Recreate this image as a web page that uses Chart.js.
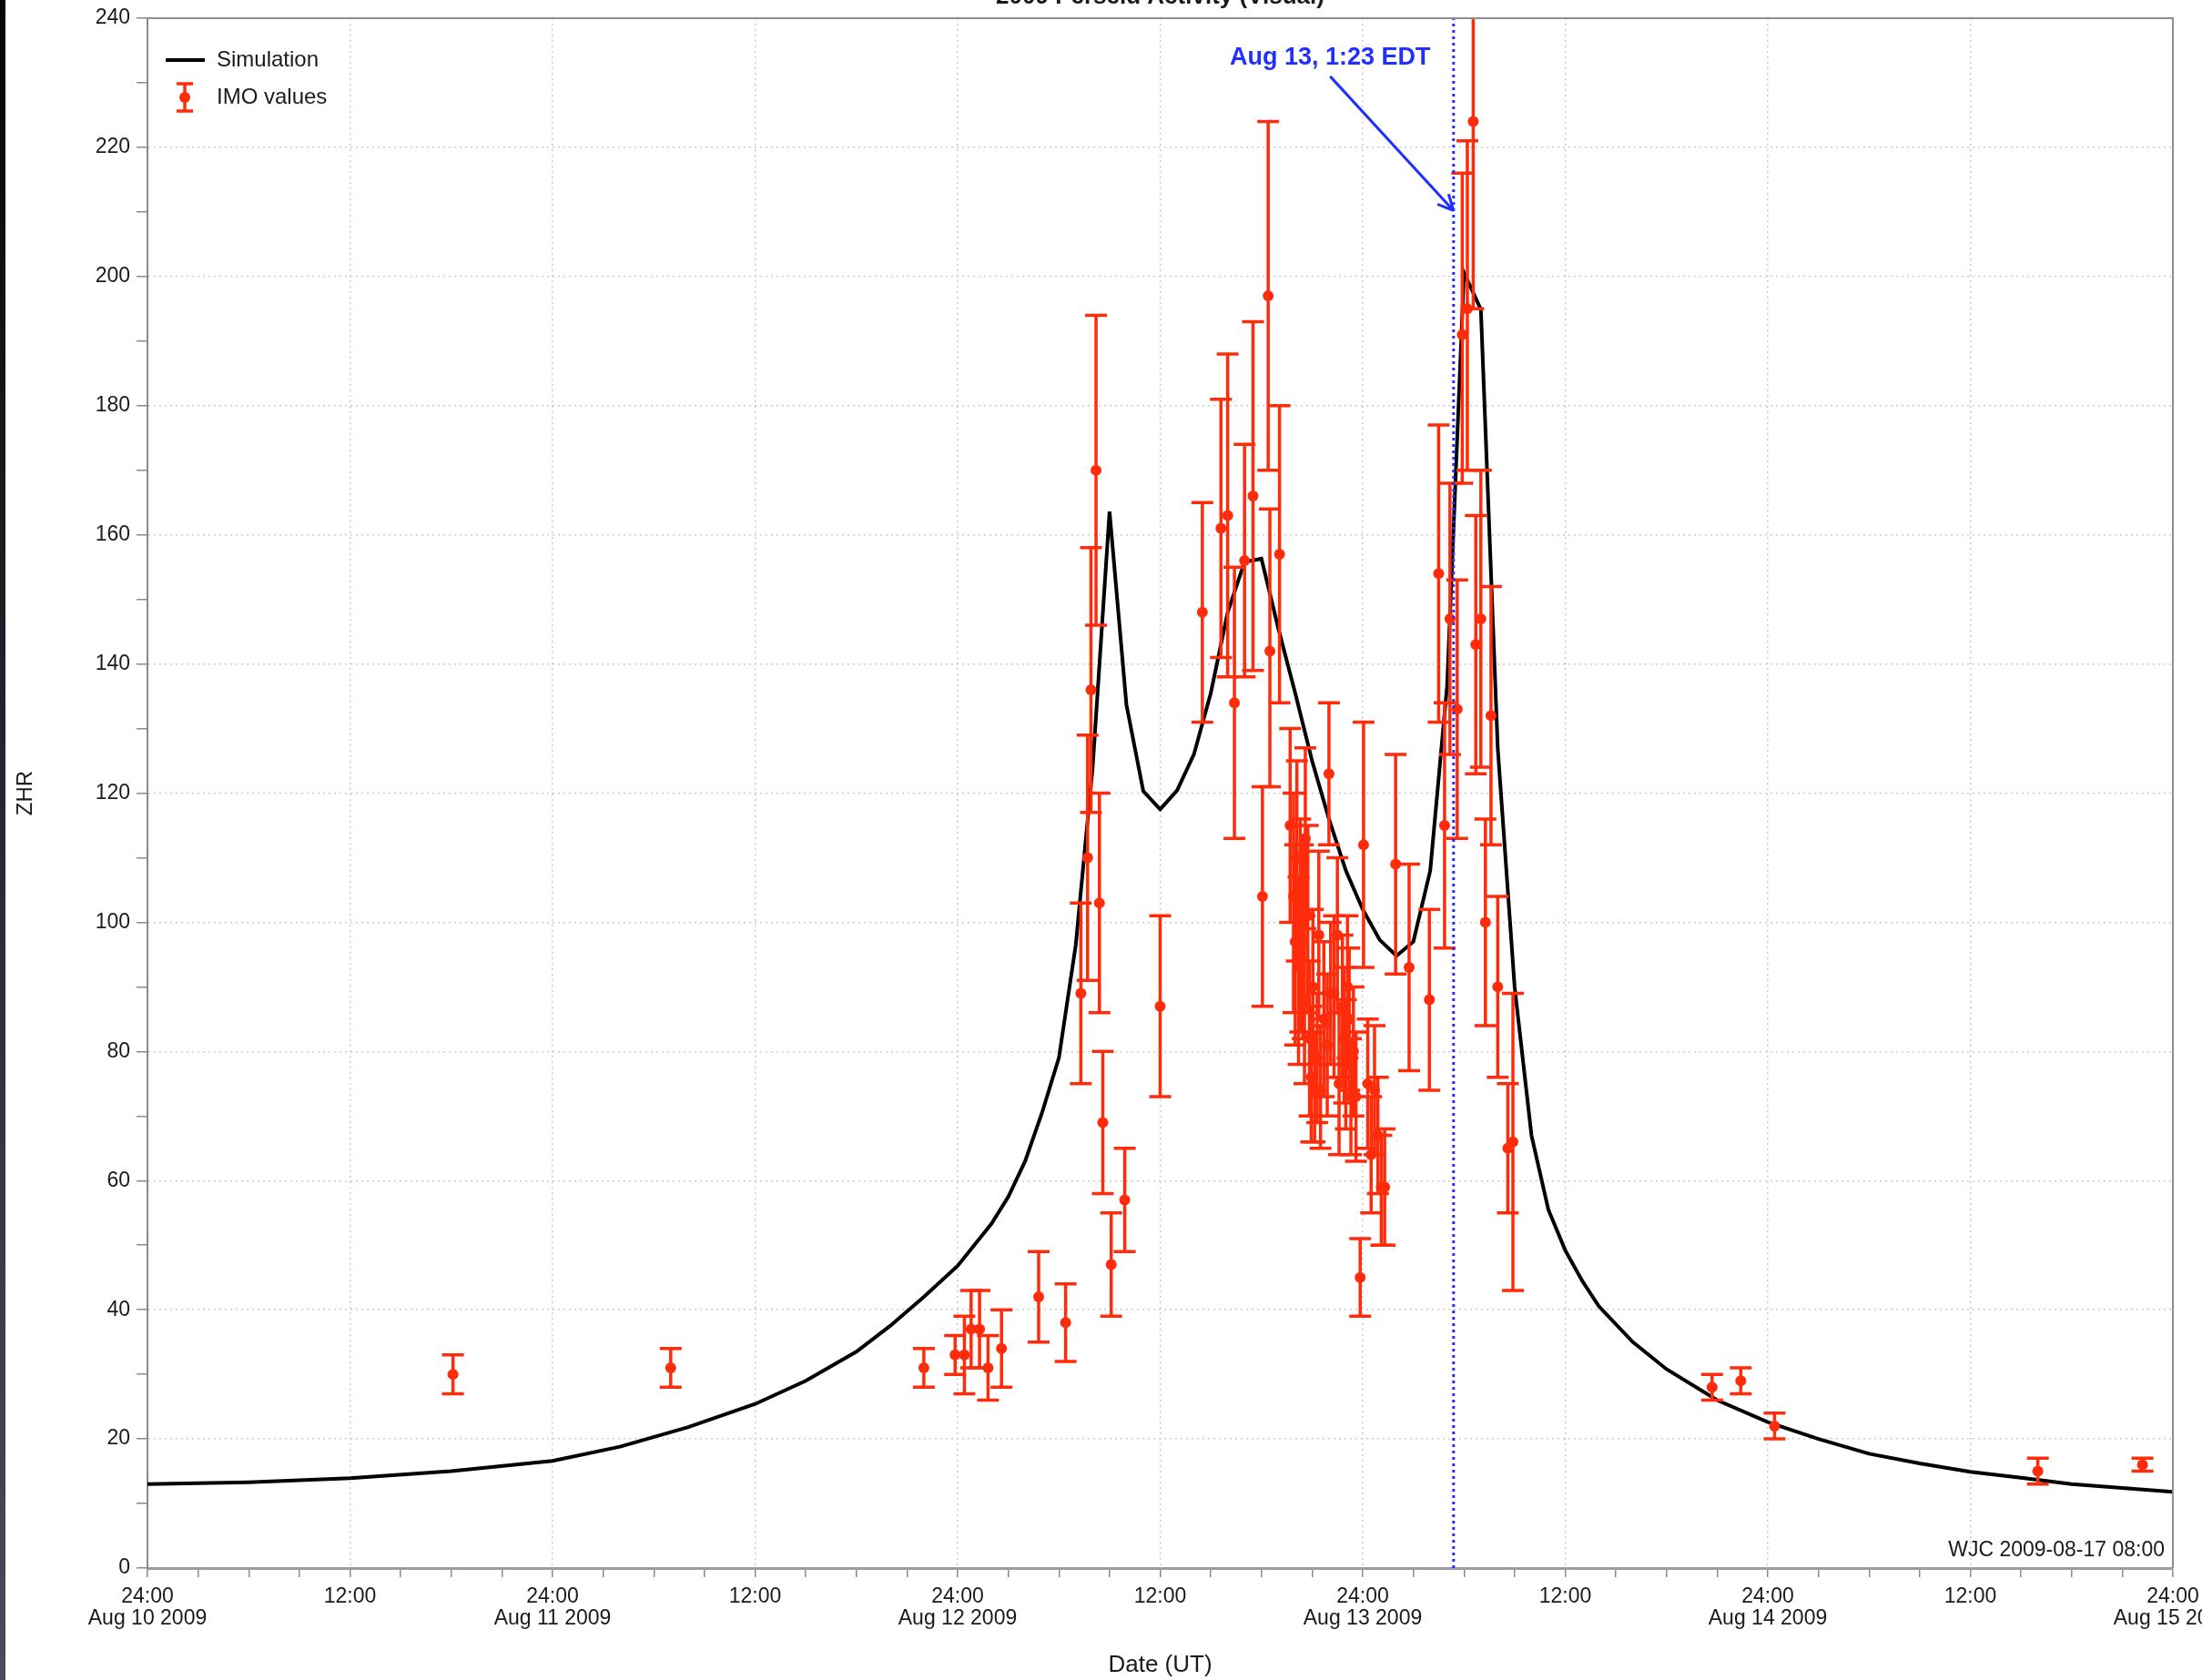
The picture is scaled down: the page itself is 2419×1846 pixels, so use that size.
<!DOCTYPE html>
<html>
<head>
<meta charset="utf-8">
<title>2009 Perseid Activity (Visual)</title>
<script src="https://cdn.jsdelivr.net/npm/chart.js@4.4.0/dist/chart.umd.min.js"></script>
<style>
  html, body { margin: 0; padding: 0; width: 2419px; height: 1846px; overflow: hidden; }
  body { position: relative; background: linear-gradient(#050505, #4b4b60); }
  #wrap { position: absolute; left: 6px; top: -19px; width: 2500px; height: 1869px; background: #fff; }
</style>
</head>
<body>
<div id="wrap"><canvas id="myChart"></canvas></div>
<script>
// x values are hours after Aug 10 2009 00:00 UT
var dayLabels = ['Aug 10 2009', 'Aug 11 2009', 'Aug 12 2009', 'Aug 13 2009', 'Aug 14 2009', 'Aug 15 2009'];

// Simulation curve
var simHours = [0, 6, 12, 18, 24, 28, 32, 36, 39, 42, 44, 46, 48, 50, 51, 52, 53, 54, 55, 56,
  57, 58, 59, 60, 61, 62, 63, 64, 65, 66, 67, 68, 69, 70, 71, 72, 73, 74, 75, 76,
  77, 78, 79, 80, 81, 82, 83, 84, 85, 86, 88, 90, 93, 96, 99, 102, 105, 108, 111, 114, 117, 120];
var simZhr = [13.0, 13.3, 13.9, 15.0, 16.6, 18.8, 21.8, 25.4, 29, 33.5, 37.5, 42, 46.8, 53.3, 57.5, 63, 70.5, 79, 96.5, 124,
  163.6, 133.7, 120.3, 117.5, 120.4, 126, 135.5, 148, 155.8, 156.3, 145.5, 135.5, 125, 116, 108, 102, 97.3, 94.8, 97, 108,
  136.6, 200.6, 194.9, 127, 90, 67, 55.5, 49.2, 44.5, 40.5, 35, 30.8, 26, 22.6, 20, 17.7, 16.2, 14.9, 14, 13, 12.4, 11.8];

// IMO values (ZHR with error range)
var imoHours = [18.1, 31.0, 46.0, 47.85, 48.4, 48.8, 49.3, 49.8, 50.6, 52.8, 54.4,
  55.3, 55.7, 55.9, 56.2, 56.4, 56.6, 57.1, 57.9, 60.0,
  62.5, 63.6, 64.0, 64.4, 65.0, 65.5, 66.06, 66.4, 66.5, 67.07,
  67.7, 67.9, 68.0, 68.1, 68.2, 68.3, 68.45, 68.55, 68.6, 68.75, 68.85, 68.95, 69.05, 69.15, 69.3, 69.4, 69.5, 69.7, 69.9,
  70.0, 70.1, 70.3, 70.5, 70.6, 70.8, 70.9, 71.0, 71.1, 71.2, 71.3, 71.45, 71.6, 71.85, 72.05, 72.3, 72.5, 72.7, 72.9, 73.1, 73.3,
  73.95, 74.75, 75.95, 76.5, 76.85, 77.17, 77.6, 77.9, 78.2, 78.55, 78.7, 79.0, 79.27, 79.6, 80.0, 80.6, 80.9,
  92.7, 94.4, 96.4, 112.0, 118.2];
var imoZhr = [30, 31, 31, 33, 33, 37, 37, 31, 34, 42, 38,
  89, 110, 136, 170, 103, 69, 47, 57, 87,
  148, 161, 163, 134, 156, 166, 104, 197, 142, 157,
  115, 104, 97, 110, 93, 100, 97, 88, 113, 101, 82, 76, 90, 74, 79, 98, 74, 85, 81,
  123, 89, 89, 98, 75, 87, 82, 78, 90, 85, 73, 80, 73, 45, 112, 75, 64, 74, 67, 59, 59,
  109, 93, 88, 154, 115, 147, 133, 191, 195, 224, 143, 147, 100, 132, 90, 65, 66,
  28, 29, 22, 15, 16];
var imoLow = [27, 28, 28, 30, 27, 31, 31, 26, 28, 35, 32,
  75, 91, 117, 146, 86, 58, 39, 49, 73,
  131, 141, 138, 113, 138, 139, 87, 170, 121, 134,
  100, 86, 81, 94, 78, 83, 82, 75, 99, 86, 70, 66, 78, 66, 69, 85, 65, 73, 70,
  112, 78, 76, 86, 64, 76, 72, 68, 79, 74, 64, 70, 63, 39, 93, 65, 55, 64, 58, 50, 50,
  92, 77, 74, 131, 96, 126, 113, 168, 170, 195, 123, 124, 84, 112, 76, 55, 43,
  26, 27, 20, 13, 15];
var imoHigh = [33, 34, 34, 36, 39, 43, 43, 36, 40, 49, 44,
  103, 129, 158, 194, 120, 80, 55, 65, 101,
  165, 181, 188, 155, 174, 193, 121, 224, 164, 180,
  130, 120, 112, 125, 107, 116, 112, 101, 127, 115, 94, 87, 102, 83, 89, 111, 84, 97, 92,
  134, 100, 101, 110, 86, 98, 93, 88, 101, 96, 82, 90, 83, 51, 131, 85, 73, 84, 76, 67, 68,
  126, 109, 102, 177, 134, 168, 153, 216, 221, 253, 163, 170, 116, 152, 104, 75, 89,
  30, 31, 24, 17, 17];

// peak marker: Aug 13, 1:23 EDT = 05:23 UT
var peakNote = { time: 72 + 5 + 23 / 60, text: 'Aug 13, 1:23 EDT', textAt: [70.07, 233.8], from: [70.07, 231.0], to: [77.383, 210.2] };

var FONT = "'Liberation Sans', Arial, Helvetica, sans-serif";
var RED = '#ff2c0c';
var BLUE = '#1f30ff';

Chart.defaults.font.family = FONT;
Chart.defaults.color = '#1a1a1a';

function pts(xs, ys) {
  return xs.map(function (x, i) { return { x: x, y: ys[i] }; });
}

// error bars sit between the simulation line and the IMO dots
var errorBars = {
  id: 'errorBars',
  beforeDatasetDraw: function (chart, args) {
    if (args.index !== 1) return;
    var ctx = chart.ctx, xs = chart.scales.x, ys = chart.scales.y, a = chart.chartArea;
    ctx.save();
    ctx.beginPath();
    ctx.rect(a.left, a.top, a.right - a.left, a.bottom - a.top);
    ctx.clip();
    ctx.strokeStyle = RED;
    ctx.lineWidth = 3.5;
    for (var i = 0; i < imoHours.length; i++) {
      var x = xs.getPixelForValue(imoHours[i]);
      var y1 = ys.getPixelForValue(imoLow[i]);
      var y2 = ys.getPixelForValue(imoHigh[i]);
      ctx.beginPath();
      ctx.moveTo(x, y1); ctx.lineTo(x, y2);
      ctx.moveTo(x - 12, y1); ctx.lineTo(x + 12, y1);
      ctx.moveTo(x - 12, y2); ctx.lineTo(x + 12, y2);
      ctx.stroke();
    }
    ctx.restore();
  }
};

var extras = {
  id: 'extras',
  afterDatasetsDraw: function (chart) {
    var ctx = chart.ctx, xs = chart.scales.x, ys = chart.scales.y, a = chart.chartArea;
    ctx.save();

    // blue dotted line at the peak time
    var px = xs.getPixelForValue(peakNote.time);
    ctx.strokeStyle = BLUE;
    ctx.lineWidth = 3;
    ctx.setLineDash([3, 4]);
    ctx.beginPath();
    ctx.moveTo(px, a.bottom);
    ctx.lineTo(px, a.top);
    ctx.stroke();
    ctx.setLineDash([]);

    // arrow
    var x1 = xs.getPixelForValue(peakNote.from[0]), y1 = ys.getPixelForValue(peakNote.from[1]);
    var x2 = xs.getPixelForValue(peakNote.to[0]), y2 = ys.getPixelForValue(peakNote.to[1]);
    var ang = Math.atan2(y2 - y1, x2 - x1);
    ctx.lineWidth = 3;
    ctx.beginPath();
    ctx.moveTo(x1, y1);
    ctx.lineTo(x2, y2);
    [-1, 1].forEach(function (s) {
      ctx.moveTo(x2, y2);
      ctx.lineTo(x2 - 19 * Math.cos(ang + s * 0.45), y2 - 19 * Math.sin(ang + s * 0.45));
    });
    ctx.stroke();

    ctx.fillStyle = BLUE;
    ctx.font = 'bold 27px ' + FONT;
    ctx.textAlign = 'center';
    ctx.textBaseline = 'middle';
    ctx.fillText(peakNote.text, xs.getPixelForValue(peakNote.textAt[0]), ys.getPixelForValue(peakNote.textAt[1]));

    // stamp
    ctx.fillStyle = '#1a1a1a';
    ctx.font = '23px ' + FONT;
    ctx.textAlign = 'right';
    ctx.fillText('WJC 2009-08-17 08:00', a.right - 9, a.bottom - 19);

    // legend
    var sim = chart.data.datasets[0], imo = chart.data.datasets[1];
    var ly = a.top + 46, ey = a.top + 87, ex = a.left + 41;
    ctx.strokeStyle = sim.borderColor;
    ctx.lineWidth = 4;
    ctx.beginPath();
    ctx.moveTo(a.left + 20, ly);
    ctx.lineTo(a.left + 63, ly);
    ctx.stroke();
    ctx.strokeStyle = RED;
    ctx.lineWidth = 3.5;
    ctx.beginPath();
    ctx.moveTo(ex, ey - 15); ctx.lineTo(ex, ey + 15);
    ctx.moveTo(ex - 9, ey - 15); ctx.lineTo(ex + 9, ey - 15);
    ctx.moveTo(ex - 9, ey + 15); ctx.lineTo(ex + 9, ey + 15);
    ctx.stroke();
    ctx.fillStyle = imo.backgroundColor;
    ctx.beginPath();
    ctx.arc(ex, ey, 6, 0, Math.PI * 2);
    ctx.fill();
    ctx.fillStyle = '#1a1a1a';
    ctx.font = '24px ' + FONT;
    ctx.textAlign = 'left';
    ctx.fillText(sim.label, a.left + 76, ly);
    ctx.fillText(imo.label, a.left + 76, ey);

    // top and right frame
    ctx.strokeStyle = '#8f8f8f';
    ctx.lineWidth = 2;
    ctx.beginPath();
    ctx.moveTo(a.left, a.top);
    ctx.lineTo(a.right, a.top);
    ctx.lineTo(a.right, a.bottom);
    ctx.stroke();
    ctx.restore();
  }
};

var ctx = document.getElementById('myChart');
var myChart = new Chart(ctx, {
  type: 'scatter',
  data: {
    datasets: [
      {
        label: 'Simulation',
        data: pts(simHours, simZhr),
        showLine: true,
        borderColor: '#000000',
        borderWidth: 4,
        pointRadius: 0,
        tension: 0,
        order: 2
      },
      {
        label: 'IMO values',
        data: pts(imoHours, imoZhr),
        backgroundColor: RED,
        borderWidth: 0,
        pointRadius: 6,
        order: 1
      }
    ]
  },
  options: {
    responsive: true,
    maintainAspectRatio: false,
    animation: false,
    layout: { padding: { left: 0, right: 119, top: 0, bottom: 0 } },
    plugins: {
      legend: { display: false },
      tooltip: { enabled: false },
      title: {
        display: true,
        text: '2009 Perseid Activity (Visual)',
        fullSize: false,
        font: { size: 26, weight: 'bold' },
        padding: { top: 0, bottom: 7.8 }
      }
    },
    scales: {
      x: {
        type: 'linear',
        min: 0,
        max: 120,
        afterFit: function (s) { s.height = 127; s.paddingLeft = 0; s.paddingRight = 0; },
        ticks: {
          stepSize: 3,
          autoSkip: false,
          maxRotation: 0,
          minRotation: 0,
          padding: 9,
          font: { size: 23, lineHeight: 1.07 },
          callback: function (v) {
            if (v % 24 === 0) return ['24:00', dayLabels[v / 24]];
            if (v % 12 === 0) return '12:00';
            return '';
          }
        },
        grid: {
          color: function (c) { return (c.tick && c.tick.value % 12 === 0) ? '#cccccc' : 'rgba(0,0,0,0)'; },
          lineWidth: 1.5,
          tickColor: '#8a8a8a',
          tickLength: 10,
          tickWidth: 1.5
        },
        border: { color: '#9c9c9c', width: 3, dash: [2, 4] },
        title: {
          display: true,
          text: 'Date (UT)',
          font: { size: 26 },
          padding: { top: 0, bottom: 4.4 }
        }
      },
      y: {
        min: 0,
        max: 240,
        afterFit: function (s) { s.width = 156; s.paddingTop = 0; s.paddingBottom = 0; },
        ticks: {
          stepSize: 10,
          autoSkip: false,
          padding: 7,
          font: { size: 23 },
          callback: function (v) { return v % 20 === 0 ? String(v) : ''; }
        },
        grid: {
          color: function (c) {
            var v = c.tick && c.tick.value;
            return (v % 20 === 0 && v > 0 && v < 240) ? '#cccccc' : 'rgba(0,0,0,0)';
          },
          lineWidth: 1.5,
          tickColor: '#8a8a8a',
          tickLength: 12,
          tickWidth: 1.5
        },
        border: { color: '#8a8a8a', width: 2, dash: [2, 4] },
        title: {
          display: true,
          text: 'ZHR',
          font: { size: 24 },
          padding: { top: 7.6, bottom: 0 }
        }
      }
    }
  },
  plugins: [errorBars, extras]
});
</script>
</body>
</html>
